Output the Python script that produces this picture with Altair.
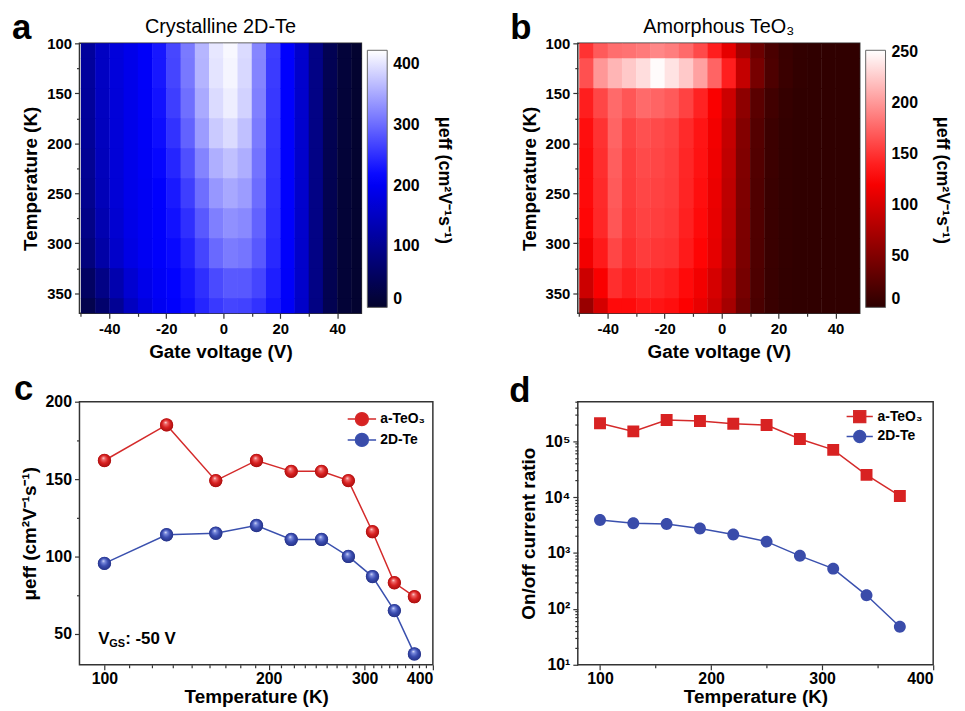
import altair as alt
import pandas as pd

FONT = "Liberation Sans"

# ---------------- heat-map grids (panels a, b) ----------------
gate_voltage = [-47.5, -42.5, -37.5, -32.5, -27.5, -22.5, -17.5, -12.5, -7.5, -2.5,
                2.5, 7.5, 12.5, 17.5, 22.5, 27.5, 32.5, 37.5, 42.5, 47.5]
grid_temps = [100, 130, 160, 190, 220, 250, 280, 310, 340, 370]

mu_2dte_map = [
    [112, 150, 175, 190, 205, 230, 270, 312, 362, 402, 416, 392, 322, 262, 210, 160, 90, 40, 15, 5],
    [112, 150, 175, 190, 205, 230, 268, 310, 360, 400, 414, 390, 320, 260, 210, 160, 90, 40, 15, 5],
    [110, 148, 173, 190, 204, 226, 262, 303, 352, 392, 408, 385, 317, 257, 210, 160, 90, 38, 14, 5],
    [108, 146, 172, 190, 203, 222, 252, 292, 340, 378, 392, 370, 312, 255, 210, 160, 90, 38, 14, 5],
    [104, 143, 171, 190, 202, 216, 242, 276, 320, 356, 370, 355, 306, 252, 210, 160, 90, 38, 13, 5],
    [100, 140, 170, 190, 200, 210, 232, 262, 302, 336, 350, 340, 300, 250, 210, 160, 90, 38, 12, 5],
    [92, 132, 165, 188, 200, 209, 225, 250, 285, 316, 330, 324, 292, 247, 209, 159, 90, 38, 12, 5],
    [82, 122, 158, 184, 199, 208, 218, 238, 268, 298, 313, 308, 284, 244, 208, 158, 90, 38, 12, 5],
    [55, 90, 130, 165, 190, 203, 212, 228, 250, 272, 285, 284, 268, 236, 206, 158, 90, 38, 12, 5],
    [35, 65, 105, 148, 178, 198, 208, 222, 242, 258, 268, 266, 252, 228, 204, 156, 88, 38, 12, 5],
]

mu_ateo3_map = [
    [150, 170, 180, 182, 186, 192, 188, 178, 162, 140, 110, 70, 38, 18, 8, 4, 3, 3, 3, 3],
    [165, 200, 215, 225, 235, 250, 238, 225, 205, 175, 140, 90, 45, 20, 9, 4, 3, 3, 3, 3],
    [140, 160, 178, 168, 178, 175, 170, 158, 142, 122, 95, 58, 28, 13, 6, 3, 3, 3, 3, 3],
    [132, 150, 175, 158, 165, 162, 158, 146, 135, 118, 90, 52, 24, 10, 5, 3, 3, 3, 3, 3],
    [130, 148, 172, 155, 162, 160, 156, 144, 134, 116, 88, 50, 23, 10, 5, 3, 3, 3, 3, 3],
    [130, 146, 170, 154, 160, 158, 155, 143, 132, 114, 86, 49, 22, 9, 5, 3, 3, 3, 3, 3],
    [128, 145, 168, 152, 158, 156, 153, 141, 130, 112, 85, 48, 22, 9, 5, 3, 3, 3, 3, 3],
    [118, 138, 160, 148, 155, 152, 150, 138, 127, 110, 83, 47, 21, 9, 5, 3, 3, 3, 3, 3],
    [95, 122, 148, 140, 146, 144, 140, 130, 118, 100, 78, 44, 20, 8, 4, 3, 3, 3, 3, 3],
    [65, 100, 130, 130, 136, 135, 132, 124, 112, 95, 72, 40, 18, 8, 4, 3, 3, 3, 3, 3],
]

# ---------------- line plots (panels c, d) ----------------
temps = [100, 130, 160, 190, 220, 250, 280, 310, 340, 370]
mu_ateo3 = [162, 185, 149, 162, 155, 155, 149, 116, 83, 74]
mu_2dte = [95.5, 114, 115, 120, 111, 111, 100, 87, 65, 37]
ratio_ateo3 = [2.1e5, 1.5e5, 2.4e5, 2.3e5, 2.05e5, 1.95e5, 1.1e5, 7.0e4, 2.5e4, 1.05e4]
ratio_2dte = [3.9e3, 3.4e3, 3.3e3, 2.75e3, 2.15e3, 1.6e3, 890, 525, 175, 48]
series_names = ["a-TeO\u2083", "2D-Te"]

# tick positions (major + minor)
hm_x_ticks = [-50, -40, -30, -20, -10, 0, 10, 20, 30, 40]
hm_y_ticks = [100, 125, 150, 175, 200, 225, 250, 275, 300, 325, 350]
c_x_ticks = [100, 200, 300, 400] + [b + 100 * k / 9 for b in (100, 200, 300) for k in range(1, 9)]
c_y_ticks = [50, 75, 100, 125, 150, 175, 200]
d_x_ticks = [100, 150, 200, 250, 300, 350, 400]
d_y_ticks = [m * 10 ** e for e in range(1, 6) for m in range(1, 10) if m * 10 ** e <= 5e5]

RED_LINE = "#d42a2a"
BLUE_LINE = "#3a50ae"
RED_FILL = "#d82222"
BLUE_FILL = "#3a4caa"

MU_TITLE = "\u03bceff (cm\u00b2V\u207b\u00b9s\u207b\u00b9)"


def tick_size(test):
    return {"condition": {"test": test, "value": 5}, "value": 3}


def grid_frame(rows):
    # cells overlap by a hair so no seams show between neighbouring rects
    recs = []
    for t, row in zip(grid_temps, rows):
        for v, m in zip(gate_voltage, row):
            recs.append({"V0": v - 2.5, "V1": v + 2.65, "T0": t - 15, "T1": t + 15.6, "mu": m})
    return pd.DataFrame(recs)


def txt(s, dx, dy, size, weight="bold", angle=0, align="left", baseline="alphabetic"):
    return alt.Chart(pd.DataFrame({"t": [s]})).mark_text(
        fontSize=size, fontWeight=weight, align=align, baseline=baseline, color="black",
        font=FONT, angle=angle
    ).encode(x=alt.value(dx), y=alt.value(dy), text="t:N")


def letter_layer(ch, dx, dy):
    return txt(ch, dx, dy, 35)


def heatmap(rows, title, cdom, crange, cvals, letter, width):
    df = grid_frame(rows)
    cscale = alt.Scale(domain=cdom, range=crange, interpolate="rgb")
    rect = alt.Chart(df).mark_rect(clip=True).encode(
        x=alt.X("V0:Q", scale=alt.Scale(domain=[-50.5, 48.5], nice=False, zero=False),
                axis=alt.Axis(values=hm_x_ticks, title="Gate voltage (V)",
                              labelExpr="datum.value % 20 == 0 ? replace(datum.label, '\u2212', '-') : ''",
                              tickSize=tick_size("datum.value % 20 == 0"), labelOverlap=False,
                              labelFontSize=15, titleFontSize=19)),
        x2="V1:Q",
        y=alt.Y("T0:Q", scale=alt.Scale(domain=[100, 370], reverse=True, nice=False, zero=False),
                axis=alt.Axis(values=hm_y_ticks, title="Temperature (K)",
                              labelExpr="datum.value % 50 == 0 ? datum.label : ''",
                              tickSize=tick_size("datum.value % 50 == 0"), labelOverlap=False,
                              labelFontSize=15, titleFontSize=19)),
        y2="T1:Q",
        color=alt.Color("mu:Q", scale=cscale, legend=alt.Legend(
            type="gradient", orient="none", legendX=width + 6, legendY=7, direction="vertical",
            gradientLength=259, gradientThickness=20, values=cvals, title=None,
            labelFontSize=16, labelFontWeight="bold", labelFont=FONT, labelColor="black",
            labelOffset=6, gradientStrokeColor="#666", gradientStrokeWidth=1)),
    )
    cbar_title = txt(MU_TITLE, width + 83, 138, 18, angle=90, align="center", baseline="middle")
    title_layer = txt(title, width / 2, -10, 20, weight="normal", align="center")
    return alt.layer(rect, cbar_title, title_layer, letter_layer(letter, -68, -4)).properties(
        width=width, height=272,
    )


panel_a = heatmap(mu_2dte_map, "Crystalline 2D-Te", [0, 211, 422],
                  ["#03032b", "#0000ff", "#ffffff"], [0, 100, 200, 300, 400], "a", 284)
panel_b = heatmap(mu_ateo3_map, "Amorphous TeO\u2083", [0, 125, 252],
                  ["#2b0000", "#ff0000", "#ffffff"], [0, 50, 100, 150, 200, 250], "b", 284)

BALL_PATH = "M-2.2,0H-1M1,0H2.2M-1,0A1,1,0,1,1,1,0A1,1,0,1,1,-1,0Z"
SQUARE_PATH = "M-2.2,0H-1M1,0H2.2M-1,-1H1V1H-1Z"


def legend_spec(size, lx, ly):
    return alt.Legend(title=None, orient="none", legendX=lx, legendY=ly, symbolSize=size,
                      labelFontSize=14, labelFontWeight="bold", labelFont=FONT, labelColor="black",
                      labelOffset=11, rowPadding=2, symbolStrokeWidth=1.5, symbolOpacity=1)


def legend_points(df, x, y, shapes, size, leg):
    # solid markers that carry the legend; their outline width comes from a
    # separate constant field so the marks themselves show no outline stubs
    return alt.Chart(df).transform_calculate(sw="'none'").mark_point(
        filled=True, size=size, opacity=1).encode(
        x=x, y=y,
        fill=alt.Fill("series:N", scale=alt.Scale(domain=series_names, range=[RED_FILL, BLUE_FILL]), legend=leg),
        stroke=alt.Stroke("series:N", scale=alt.Scale(domain=series_names, range=[RED_LINE, BLUE_LINE]), legend=leg),
        shape=alt.Shape("series:N", scale=alt.Scale(domain=series_names, range=shapes), legend=leg),
        strokeWidth=alt.StrokeWidth("sw:N", scale=alt.Scale(type="ordinal", domain=["none"], range=[0]), legend=None),
    )


def series_line(df, x, y, name, color):
    return alt.Chart(df).transform_filter(alt.datum.series == name).mark_line(
        strokeWidth=1.5, color=color).encode(x=x, y=y)


def ball_gradient(light, mid, dark):
    return alt.RadialGradient(
        gradient="radial", x1=0.42, y1=0.3, r1=0.0, x2=0.5, y2=0.5, r2=0.55,
        stops=[alt.GradientStop(offset=0, color="#ffffff"),
               alt.GradientStop(offset=0.18, color=light),
               alt.GradientStop(offset=0.55, color=mid),
               alt.GradientStop(offset=1, color=dark)])


# ---------------- panel c ----------------
df_c = pd.DataFrame({
    "T": temps + temps,
    "mu": mu_ateo3 + mu_2dte,
    "series": [series_names[0]] * len(temps) + [series_names[1]] * len(temps),
})
xc = alt.X("T:Q", scale=alt.Scale(type="log", domain=[90, 400], nice=False),
           axis=alt.Axis(values=c_x_ticks, title="Temperature (K)", format="d",
                         labelExpr="datum.value % 100 == 0 ? datum.label : ''",
                         tickSize=tick_size("datum.value % 100 == 0"), labelOverlap=False,
                         labelPadding=1, titlePadding=1))
yc = alt.Y("mu:Q", scale=alt.Scale(domain=[30, 200], nice=False, zero=False),
           axis=alt.Axis(values=c_y_ticks, title=MU_TITLE,
                         labelExpr="datum.value % 50 == 0 ? datum.label : ''",
                         tickSize=tick_size("datum.value % 50 == 0"), labelOverlap=False))

points_c = legend_points(df_c, xc, yc, [BALL_PATH, BALL_PATH], 169, legend_spec(169, 277, 10))
balls_red = alt.Chart(df_c).transform_filter(alt.datum.series == series_names[0]).mark_circle(
    size=180, opacity=1, fill=ball_gradient("#f07070", "#d82020", "#a00c0c")).encode(x=xc, y=yc)
balls_blue = alt.Chart(df_c).transform_filter(alt.datum.series == series_names[1]).mark_circle(
    size=180, opacity=1, fill=ball_gradient("#8090e0", "#3a4cb0", "#222e80")).encode(x=xc, y=yc)

panel_c = alt.layer(
    series_line(df_c, xc, yc, series_names[0], RED_LINE),
    series_line(df_c, xc, yc, series_names[1], BLUE_LINE),
    points_c, balls_red, balls_blue,
    txt("V", 19, 244, 17), txt("GS", 30, 247, 11), txt(": -50 V", 46, 244, 17),
    letter_layer("c", -66, -2),
).properties(width=356, height=265)

# ---------------- panel d ----------------
df_d = pd.DataFrame({
    "T": temps + temps,
    "ratio": ratio_ateo3 + ratio_2dte,
    "series": [series_names[0]] * len(temps) + [series_names[1]] * len(temps),
})
xd = alt.X("T:Q", scale=alt.Scale(domain=[80, 400], nice=False, zero=False),
           axis=alt.Axis(values=d_x_ticks, title="Temperature (K)",
                         labelExpr="datum.value % 100 == 0 ? datum.label : ''",
                         tickSize=tick_size("datum.value % 100 == 0"), labelOverlap=False,
                         labelPadding=1, titlePadding=1))
major_log = "abs(log(datum.value) / LN10 - round(log(datum.value) / LN10)) < 0.001"
yd = alt.Y("ratio:Q", scale=alt.Scale(type="log", domain=[10, 5.1e5], nice=False),
           axis=alt.Axis(values=d_y_ticks, title="On/off current ratio", labelOverlap=False,
                         tickSize=tick_size(major_log),
                         labelExpr="datum.value == 10 ? '10\u00b9' : datum.value == 100 ? '10\u00b2' : datum.value == 1000 ? '10\u00b3' : datum.value == 10000 ? '10\u2074' : datum.value == 100000 ? '10\u2075' : ''"))

points_d = legend_points(df_d, xd, yd, [SQUARE_PATH, BALL_PATH], 144, legend_spec(144, 277, 8))

panel_d = alt.layer(
    series_line(df_d, xd, yd, series_names[0], RED_LINE),
    series_line(df_d, xd, yd, series_names[1], BLUE_LINE),
    points_d, letter_layer("d", -69, 0),
).properties(width=358, height=265)

# ---------------- assemble ----------------
chart = alt.concat(
    panel_a, panel_b, panel_c, panel_d, columns=2,
    spacing={"row": 89, "column": 146}, bounds="flush",
).resolve_scale(
    color="independent", fill="independent", stroke="independent", shape="independent",
    strokeWidth="independent",
).resolve_legend(
    color="independent", fill="independent", stroke="independent", shape="independent",
).properties(
    padding={"left": 3, "top": 0, "right": 5, "bottom": 5}
).configure(font=FONT).configure_view(
    stroke="#333333", strokeWidth=1.5
).configure_axis(
    labelFont=FONT, titleFont=FONT, labelFontWeight="bold", titleFontWeight="bold",
    labelColor="black", titleColor="black", tickColor="#333333", tickWidth=1.2,
    domain=False, grid=False, labelFontSize=16, titleFontSize=19, labelPadding=3, titlePadding=6,
)

chart.save("out.html", embed_options={"renderer": "svg", "actions": False})
